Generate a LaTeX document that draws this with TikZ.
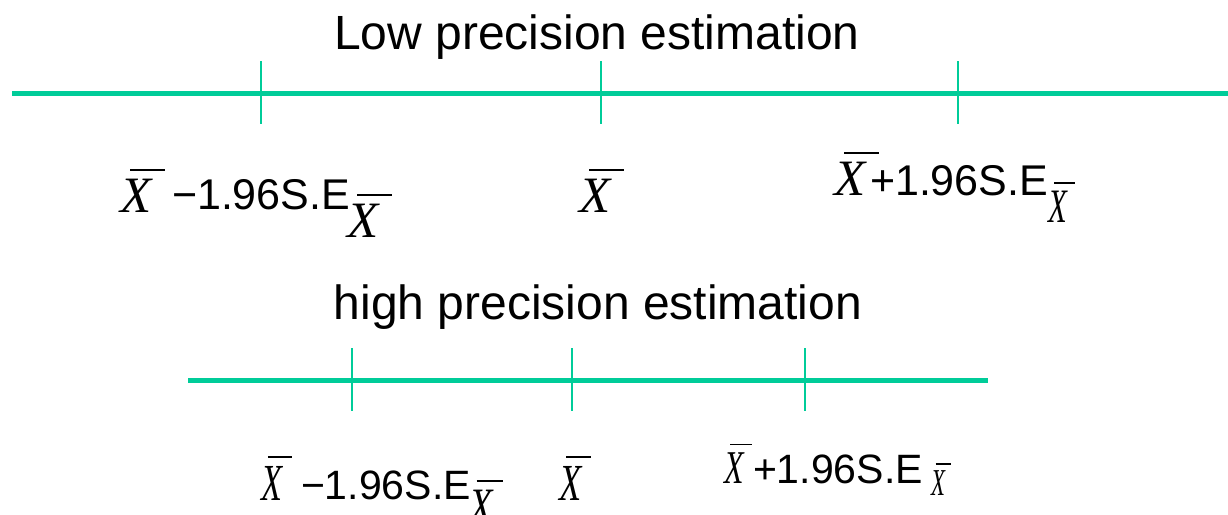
\documentclass[tikz,border=0pt]{standalone}
\usepackage{fontspec}
\setmainfont{Liberation Sans}
\newfontfamily\tms{Liberation Serif}
\definecolor{lgreen}{RGB}{0,204,153}
\newcommand\Xbar[2]{{\fontsize{#2}{#2}\selectfont\tms\itshape\scalebox{#1}[1]{\rlap{\hspace{0.2em}\rule[0.8em]{0.69em}{0.04em}}X}}}
\newcommand\sz[1]{\fontsize{#1}{#1}\selectfont}
\tikzset{
  mainline/.style={draw=lgreen, line width=5pt},
  tickline/.style={draw=lgreen, line width=2pt},
  lbl/.style={inner sep=0pt, outer sep=0pt, anchor=base west},
  title/.style={inner sep=0pt, outer sep=0pt, anchor=base, font=\sz{48}},
}
\begin{document}
\begin{tikzpicture}[x=1pt,y=-1pt]
\useasboundingbox (0,0) rectangle (1228,514);
% titles
\node[title] (t1) at (597,49) {Low precision estimation};
\node[title] (t2) at (598,319) {high precision estimation};
% line 1
\coordinate (a1) at (12,93);
\coordinate (b1) at (1228,93);
\draw[mainline] (a1) -- (b1);
\foreach \x/\n in {261/p, 601/q, 958/r}{
  \coordinate (\n1top) at (\x,61);
  \coordinate (\n1bot) at (\x,124);
  \draw[tickline] (\n1top) -- (\n1bot);
}
% line 2
\coordinate (a2) at (188,380);
\coordinate (b2) at (988,380);
\draw[mainline] (a2) -- (b2);
\foreach \x/\n in {352/p, 572/q, 805/r}{
  \coordinate (\n2top) at (\x,348);
  \coordinate (\n2bot) at (\x,411);
  \draw[tickline] (\n2top) -- (\n2bot);
}
% row 1 labels
\node[lbl] (x1l) at (120,212) {\Xbar{1}{51}};
\node[lbl] (s1l) at (172,209) {\sz{43}−1.96S.E};
\node[lbl] (u1l) at (347,237) {\Xbar{1}{51}};
\node[lbl] (x1m) at (579,212) {\Xbar{1}{51}};
\node[lbl] (x1r) at (834,195) {\Xbar{1}{51}};
\node[lbl] (s1r) at (870,195) {\sz{43}+1.96S.E};
\node[lbl] (u1r) at (1048,222) {\Xbar{0.64}{48}};
% row 2 labels
\node[lbl] (x2l) at (261,500) {\Xbar{0.66}{52}};
\node[lbl] (s2l) at (301,499) {\sz{41}−1.96S.E};
\node[lbl] (u2l) at (469,523) {\Xbar{0.75}{51}};
\node[lbl] (x2m) at (559,500) {\Xbar{0.7}{52}};
\node[lbl] (x2r) at (724,483) {\Xbar{0.68}{47}};
\node[lbl] (s2r) at (753,483) {\sz{41}+1.96S.E};
\node[lbl] (u2r) at (931,495) {\Xbar{0.6}{38}};
\end{tikzpicture}
\end{document}
